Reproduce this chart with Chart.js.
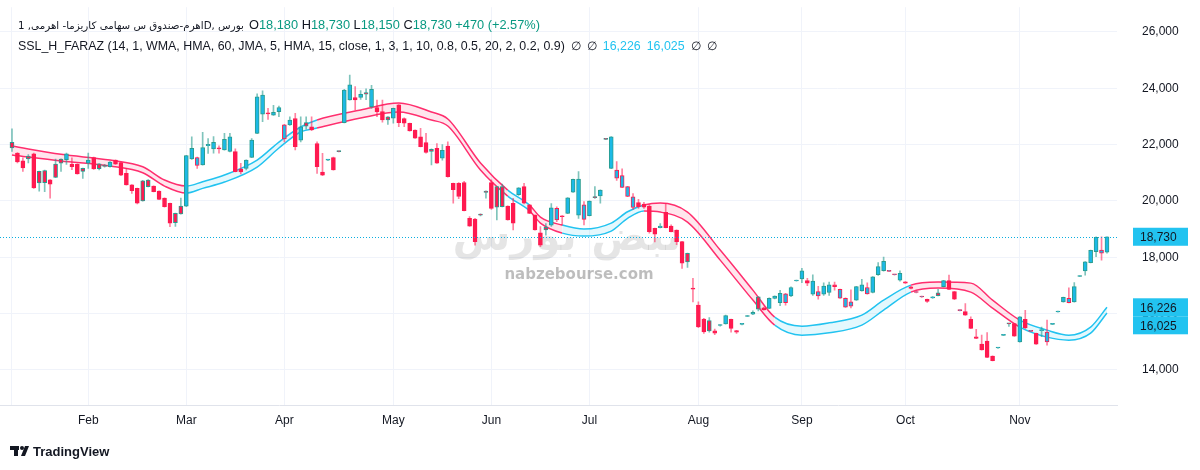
<!DOCTYPE html>
<html>
<head>
<meta charset="utf-8">
<script src="https://cdn.jsdelivr.net/npm/chart.js@4.4.1/dist/chart.umd.min.js"></script>
<style>
  html, body { margin: 0; padding: 0; background: #fff; }
</style>
</head>
<body>
<canvas id="chart" width="1200" height="470"></canvas>
<script>
// daily candles
const opens = [22080,21700,21430,21590,21670,21050,21080,20750,21310,21490,21470,21310,21300,21160,21340,21540,21320,21250,21220,21450,
  21360,20980,20570,20450,20720,20745,20530,20350,20100,19920,19560,19820,19820,21490,21260,21280,21960,21850,21890,21810,
  21760,21750,21130,21160,21550,22400,23080,23130,23050,23170,22200,22700,22930,22160,22780,22630,22040,21030,21450,21540,
  21760,22780,23590,23670,23680,23850,23350,23320,23170,22990,22940,23410,22930,22760,22520,22280,22070,21830,21870,21520,
  21950,20630,20630,20650,19380,19360,19520,20350,20650,20510,20510,19820,19920,20220,20510,19860,19500,18870,19065,19140,
  19330,19470,19560,20310,19500,19350,19480,20140,20180,22200,21160,20810,20480,20160,19770,19940,19890,19820,19030,19050,
  19600,19110,18970,18560,18140,16900,16300,15810,15750,15390,15580,15640,15800,15400,15620,15900,15980,16600,16210,16190,
  16540,16390,16390,16630,17160,17230,17170,16690,16630,16690,16750,17020,16550,16230,16270,16480,16810,16700,16750,17380,
  17530,17500,17380,17190,17130,16950,16750,16590,16510,16560,16740,16960,17170,16780,16110,16070,15800,15180,14920,15030,
  14490,14780,15230,15650,15650,15000,15800,15370,15300,15400,15000,15620,16060,16420,16390,16420,17320,17520,17810,18200,
  18150,18180];
const highs = [22560,21720,21530,21650,21700,21060,21100,20760,21490,21500,21700,21530,21320,21170,21700,21560,21330,21300,21400,21460,
  21380,21160,20580,20460,20730,20760,20540,20360,20110,19930,19570,20100,21620,22280,21560,22440,22220,22290,21960,22400,
  22400,21850,21340,21460,22220,23800,23910,23290,23400,23370,22720,22990,23110,22990,22990,22990,22100,21690,21480,21560,
  21770,23960,24470,24060,23920,23980,24110,23580,23580,23000,23300,23420,22950,22770,22530,22580,22400,21850,22040,22000,
  22100,20640,20650,20700,19450,19380,19540,20360,20750,20520,20600,19830,20095,20480,20630,19870,19510,19090,19200,19910,
  19790,19480,20120,20780,21040,19980,20010,20510,20400,22210,22290,21400,21140,20520,20260,20060,19950,19870,19040,19200,
  19910,19150,18980,18570,18150,17250,16420,15830,15860,15450,15610,15950,15810,15410,15650,15940,16100,16610,16230,16560,
  16630,16830,16720,16950,17190,17610,17250,17380,16970,17090,17120,17120,16870,16560,16850,16970,17220,17090,17320,17810,
  18010,17530,17400,17520,17140,16970,16790,16620,16520,16610,16860,17180,17370,16790,16140,16360,15890,15440,15240,15330,
  14500,14800,15260,15660,15660,15900,16120,15400,15310,15520,15770,15650,16090,16590,16920,17100,17350,17850,18260,18730,
  18730,18730];
const lows = [21760,21350,21050,21350,20450,20350,20330,20100,20830,21050,21300,21110,20950,20800,21160,21120,21100,21200,21200,21300,
  20900,20560,20270,19900,19990,20500,20320,20050,19780,19090,19100,19530,19800,21480,21160,21270,21690,21700,21700,21800,
  21740,21030,20960,21100,21540,22390,22820,22900,23040,22990,22100,22680,21810,22100,22550,22500,20980,20900,21430,21090,
  21740,22770,23580,23230,23610,23600,23290,22990,22800,22720,22760,22640,22640,22480,22220,21920,21700,21280,21330,21450,
  20850,19920,20080,19650,19100,18430,19470,20100,19700,19330,19790,19320,18970,20200,19900,19550,18960,18380,18790,19100,
  19270,19145,19550,20300,19385,19150,19470,20090,19920,22180,21150,20730,20470,20150,19700,19740,19740,18860,18550,19040,
  19040,18900,18450,17610,17640,16420,15500,15300,15340,15250,15560,15630,15340,15300,15600,15890,15960,16100,16120,16180,
  16520,16280,16300,16600,17150,17100,16990,16650,16510,16650,16650,16830,16540,16220,16200,16470,16800,16690,16740,17360,
  17510,17490,17370,17150,17070,16880,16740,16580,16400,16540,16630,16950,16850,16500,16100,15940,15470,15110,14700,14440,
  14320,14770,15220,15550,15190,14990,15470,15360,14910,15180,14880,15610,16050,16410,16380,16410,17310,17370,17800,18020,
  17900,18150];
const closes = [21880,21390,21170,21490,20460,20640,20650,20600,20840,21340,21670,21220,20960,21050,21450,21140,21150,21230,21380,21310,
  20920,20570,20370,19920,20000,20510,20330,20060,19800,19210,19230,19540,21610,21870,21540,21900,22010,22080,21850,22190,
  22280,21040,21030,21450,22160,23700,23760,23090,23150,23320,22700,22870,21930,22630,22660,22520,21220,20920,21470,21100,
  21750,23940,24120,23590,23790,23790,23960,23170,22880,22880,23290,22780,22760,22490,22230,21930,21720,21760,21340,21800,
  20860,20400,20160,19660,19110,18560,19500,20300,19740,19780,19800,19330,19210,20470,19920,19560,18970,18430,18970,19760,
  19740,19440,20110,20770,20780,19860,20000,20120,20390,22190,22280,21100,20900,20510,20150,19800,19780,18910,18820,19110,
  19050,18910,18560,17790,17840,16870,15530,15350,15390,15310,15590,15930,15480,15340,15640,15920,16050,16160,16130,16545,
  16620,16720,16700,16930,17180,17520,17080,17160,16780,16980,17020,16960,16860,16540,16420,16960,17020,16930,17310,17670,
  17860,17520,17390,17430,17080,16900,16770,16610,16430,16590,16640,17170,16860,16510,16130,15950,15480,15120,14710,14450,
  14330,14790,15250,15640,15200,15890,15490,15390,14920,15430,15350,15640,16080,16580,16540,16960,17340,17840,18250,18710,
  18260,18730];

// month labels on the time axis (bar index where each month starts)
const monthLabels = ['', 'Feb', 'Mar', 'Apr', 'May', 'Jun', 'Jul', 'Aug', 'Sep', 'Oct', 'Nov'];
const monthIndex = [0, 14, 32, 50, 70, 88, 106, 126, 145, 164, 185];
const priceTicks = [14000, 16000, 18000, 20000, 22000, 24000, 26000];

// SSL band, two lines sampled at some bars
const bandX = [0, 9, 18, 24, 28, 32, 35, 39, 45, 49, 53, 56, 64, 71, 77, 80, 86, 91, 95, 97, 101, 105, 110, 113, 116,
  119, 124, 130, 136, 140, 145, 150, 156, 160, 165, 170, 176, 180, 185, 190, 194, 198, 201];
const bandUpper = [21951, 21656, 21453, 21215, 20743, 20530, 20683, 20921, 21453, 22093, 22626, 22874, 23229, 23478, 23158, 22910, 21347, 20388, 19855, 19429, 19145, 19003, 19216, 19617, 19855,
  19926, 19606, 18257, 16836, 15877, 15557, 15674, 15948, 16481, 17013, 17120, 17084, 16481, 15770, 15415, 15237, 15522, 16226];
const bandLower = [21631, 21418, 21240, 21002, 20530, 20281, 20448, 20672, 21205, 21880, 22448, 22590, 22945, 23158, 22874, 22661, 21098, 20175, 19650, 19216, 18860, 18754, 18932, 19383, 19642,
  19606, 19251, 17901, 16481, 15593, 15237, 15319, 15593, 16125, 16765, 16907, 16765, 16196, 15522, 15166, 15060, 15308, 16025];
const bandTrend = [-1, -1, -1, -1, -1, 1, 1, 1, 1, 1, 1, -1, -1, -1, -1, -1, -1, 1, -1, -1, 1, 1, 1, 1, -1,
  -1, -1, -1, -1, 1, 1, 1, 1, 1, -1, -1, -1, -1, 1, 1, 1, 1, 1];

const CYAN = '#1cb9e6';
const RED = '#ff1a50';
const TEAL = '#2a9d8f';
const LINE_CYAN = '#22c3f0';
const LINE_PINK = '#ff2e6e';
const TEXT = '#131722';
const GRID = '#f0f3fa';

const last = closes.length - 1;
const fmt = v => v.toLocaleString('en-US');

const bodies = opens.map((o, i) => ({ x: i, y: [o, closes[i]] }));
const wicks = lows.map((l, i) => ({ x: i, y: [l, highs[i]] }));
const isUp = i => closes[i] >= opens[i];
const vsPrev = i => i === 0 || closes[i] >= closes[i - 1];

const overlay = {
  id: 'overlay',
  beforeDatasetsDraw(chart) {
    // site watermark
    const c = chart.ctx;
    c.save();
    c.textAlign = 'center';
    c.fillStyle = 'rgba(0,0,0,0.10)';
    c.font = 'bold 42px "DejaVu Sans"';
    c.fillText('نبض بورس', 567, 250);
    c.fillStyle = 'rgba(0,0,0,0.26)';
    c.font = 'bold 15px "DejaVu Sans"';
    c.fillText('nabzebourse.com', 579, 279);
    c.restore();
  },
  afterDatasetsDraw(chart) {
    const c = chart.ctx, a = chart.chartArea, y = chart.scales.y;
    const py = Math.round(y.getPixelForValue(closes[last])) + 0.5;
    c.save();
    c.strokeStyle = '#0aaee0';
    c.setLineDash([1, 2]);
    c.beginPath();
    c.moveTo(0, py);
    c.lineTo(a.right, py);
    c.stroke();
    c.restore();
  },
  afterDraw(chart) {
    const c = chart.ctx, y = chart.scales.y;
    c.save();
    // price labels on the right scale
    const tags = [closes[last], bandUpper[bandUpper.length - 1], bandLower[bandLower.length - 1]];
    let prev = -100;
    c.font = '12px "Liberation Sans"';
    c.textBaseline = 'middle';
    tags.forEach((v, k) => {
      let py = y.getPixelForValue(v);
      if (k > 0 && py < prev + 18) py = prev + 18;
      prev = py;
      c.fillStyle = LINE_CYAN;
      c.fillRect(1133, py - 9, 55, 18);
      c.fillStyle = TEXT;
      c.fillText(fmt(v), 1140, py + 1);
    });

    // legend lines
    c.textBaseline = 'alphabetic';
    const title = 'اهرم-صندوق س سهامی کاریزما- اهرمی, 1D, بورس';
    c.font = '13px "DejaVu Sans"';
    const fs = 13 * 226 / c.measureText(title).width;
    c.font = fs.toFixed(2) + 'px "DejaVu Sans"';
    c.fillStyle = TEXT;
    c.fillText(title, 18, 29);
    c.font = '12.8px "Liberation Sans"';
    let x = 249;
    const o = opens[last], h = highs[last], l = lows[last], cl = closes[last];
    const chg = cl - closes[last - 1];
    const parts = [['O', TEXT], [fmt(o), '#089981'], [' H', TEXT], [fmt(h), '#089981'],
      [' L', TEXT], [fmt(l), '#089981'], [' C', TEXT], [fmt(cl), '#089981'],
      [' +' + chg + ' (+' + (chg / closes[last - 1] * 100).toFixed(2) + '%)', '#089981']];
    parts.forEach(([t, col]) => { c.fillStyle = col; c.fillText(t, x, 29); x += c.measureText(t).width; });

    c.font = '12.4px "Liberation Sans"';
    x = 18;
    const line2 = [['SSL_H_FARAZ (14, 1, WMA, HMA, 60, JMA, 5, HMA, 15, close, 1, 3, 1, 10, 0.8, 0.5, 20, 2, 0.2, 0.9)', TEXT],
      ['∅', TEXT], ['∅', TEXT], [fmt(bandUpper[bandUpper.length - 1]), LINE_CYAN],
      [fmt(bandLower[bandLower.length - 1]), LINE_CYAN], ['∅', TEXT], ['∅', TEXT]];
    line2.forEach(([t, col]) => { c.fillStyle = col; c.fillText(t, x, 50); x += c.measureText(t).width + 6; });

    // TradingView mark
    c.fillStyle = TEXT;
    c.fillRect(10, 446, 9, 4);
    c.fillRect(14, 446, 4, 10);
    c.beginPath(); c.arc(22, 448, 2, 0, Math.PI * 2); c.fill();
    c.beginPath(); c.moveTo(25, 446); c.lineTo(29, 446); c.lineTo(25, 456); c.lineTo(21, 456); c.closePath(); c.fill();
    c.font = 'bold 13px "Liberation Sans"';
    c.fillText('TradingView', 33, 456);
    c.restore();
  }
};

new Chart(document.getElementById('chart'), {
  data: {
    datasets: [
      {
        type: 'bar',
        data: bodies,
        order: 0,
        grouped: false,
        barThickness: 4,
        minBarLength: 1,
        borderWidth: 1,
        borderSkipped: false,
        backgroundColor: ctx => isUp(ctx.dataIndex) ? CYAN : RED,
        borderColor: ctx => vsPrev(ctx.dataIndex) ? TEAL : RED
      },
      {
        type: 'bar',
        data: wicks,
        order: 1,
        grouped: false,
        barThickness: 1,
        backgroundColor: ctx => vsPrev(ctx.dataIndex) ? 'rgba(42,157,143,0.6)' : 'rgba(255,26,80,0.55)'
      },
      {
        type: 'line',
        data: bandX.map((x, k) => ({ x: x, y: bandUpper[k] })),
        order: 2,
        borderWidth: 1.5,
        pointRadius: 0,
        cubicInterpolationMode: 'monotone',
        borderColor: LINE_PINK,
        segment: {
          borderColor: ctx => bandTrend[ctx.p0DataIndex] > 0 ? LINE_CYAN : LINE_PINK
        }
      },
      {
        type: 'line',
        data: bandX.map((x, k) => ({ x: x, y: bandLower[k] })),
        order: 3,
        borderWidth: 1.5,
        pointRadius: 0,
        cubicInterpolationMode: 'monotone',
        borderColor: LINE_PINK,
        fill: '-1',
        backgroundColor: 'rgba(255,46,110,0.12)',
        segment: {
          borderColor: ctx => bandTrend[ctx.p0DataIndex] > 0 ? LINE_CYAN : LINE_PINK,
          backgroundColor: ctx => bandTrend[ctx.p0DataIndex] > 0 ? 'rgba(34,195,240,0.12)' : 'rgba(255,46,110,0.12)'
        }
      }
    ]
  },
  options: {
    responsive: false,
    animation: false,
    layout: { padding: 0 },
    plugins: {
      legend: { display: false },
      tooltip: { enabled: false }
    },
    scales: {
      x: {
        type: 'linear',
        offset: false,
        min: -2.2,
        max: 202.84,
        afterFit: s => { s.height = 65; },
        afterBuildTicks: s => { s.ticks = monthIndex.map(v => ({ value: v })); },
        grid: { color: GRID, offset: false, drawTicks: false },
        border: { color: '#e0e3eb' },
        ticks: {
          autoSkip: false,
          maxRotation: 0,
          padding: 8,
          color: TEXT,
          font: { family: 'Liberation Sans', size: 12 },
          callback: v => monthLabels[monthIndex.indexOf(v)]
        }
      },
      y: {
        position: 'right',
        min: 12757,
        max: 26880,
        afterFit: s => { s.width = 83; },
        afterBuildTicks: s => { s.ticks = priceTicks.map(v => ({ value: v })); },
        grid: { color: GRID, drawTicks: true, tickLength: 25, tickColor: 'rgba(0,0,0,0)' },
        border: { display: false },
        ticks: {
          padding: 0,
          color: TEXT,
          font: { family: 'Liberation Sans', size: 12 },
          callback: v => fmt(v)
        }
      }
    }
  },
  plugins: [overlay]
});
</script>
</body>
</html>
